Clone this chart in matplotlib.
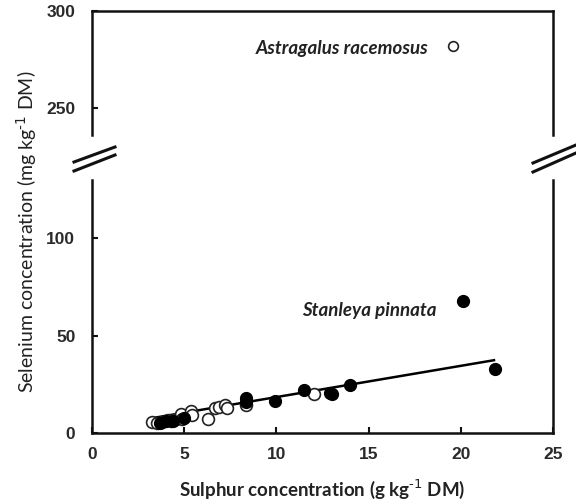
import matplotlib
matplotlib.use("Agg")
import matplotlib.pyplot as plt
from matplotlib.lines import Line2D
from matplotlib.font_manager import FontProperties

# Data
open_x = [3.25, 3.55, 3.8, 4.1, 4.3, 4.55, 4.8, 4.9, 5.35, 5.45, 6.3, 6.65, 6.9, 7.2, 7.3, 8.35, 12.05]
open_y = [5.8, 5.3, 5.5, 6.8, 6.2, 7.0, 10.0, 7.2, 11.4, 9.2, 7.0, 12.7, 13.5, 14.4, 13.0, 14.4, 20.0]
filled_x = [3.7, 4.0, 4.4, 5.0, 8.35, 8.35, 9.9, 11.5, 12.9, 13.0, 14.0, 20.1, 21.85]
filled_y = [5.0, 6.0, 6.3, 7.5, 16.0, 17.8, 16.6, 22.0, 20.7, 20.2, 24.6, 68.0, 32.8]
astragalus_x = [19.6]
astragalus_y = [282.0]
fit_x = [3.3, 21.8]
fit_y = [7.7, 37.4]

x_ticks = [0, 5, 10, 15, 20, 25]
y_ticks_low = [0, 50, 100]
y_ticks_high = [250, 300]

W, H = 576, 503
fig = plt.figure(figsize=(W / 100, H / 100), dpi=100)

L, R = 92, 553
def fy(px):
    return 1 - px / H

ax_top = fig.add_axes([L / W, fy(135), (R - L) / W, (135 - 11) / H])
ax_bot = fig.add_axes([L / W, fy(433), (R - L) / W, (433 - 180) / H])

tick_fp = FontProperties(family=["Liberation Sans", "DejaVu Sans"], weight="bold", size=12.5)
label_font = ["Lato", "Open Sans", "DejaVu Sans"]

for ax in (ax_top, ax_bot):
    ax.set_xlim(0, 25)
    for s in ax.spines.values():
        s.set_linewidth(1.8)
        s.set_color("#111111")
    ax.tick_params(direction="in", length=4, width=1.5, colors="#111111", labelcolor="#2a2a2a")

ax_top.set_ylim(236, 300)
ax_bot.set_ylim(0, 130)

ax_top.spines["bottom"].set_visible(False)
ax_bot.spines["top"].set_visible(False)
ax_top.set_xticks([])
ax_top.tick_params(axis="y", right=False)
ax_bot.tick_params(axis="both", top=False, right=False)

ax_top.set_yticks(y_ticks_high)
ax_bot.set_yticks(y_ticks_low)
ax_bot.set_xticks(x_ticks)
for lab in ax_top.get_yticklabels() + ax_bot.get_yticklabels() + ax_bot.get_xticklabels():
    lab.set_fontproperties(tick_fp)
ax_bot.tick_params(axis="y", pad=12)
ax_top.tick_params(axis="y", pad=12)
ax_bot.tick_params(axis="x", pad=10)

# Points
ax_bot.plot(fit_x, fit_y, color="black", lw=1.8, zorder=2)
ax_bot.plot(open_x, open_y, "o", ms=8.5, mfc="white", mec="#222222", mew=1.2, zorder=3)
ax_bot.plot(filled_x, filled_y, "o", ms=8.5, mfc="black", mec="black", mew=1.0, zorder=4)
ax_top.plot(astragalus_x, astragalus_y, "o", ms=7, mfc="white", mec="#222222", mew=1.2, clip_on=False)

ax_top.text(18.25, 280.5, "Astragalus racemosus", ha="right", va="center",
            family=label_font, style="italic", weight="bold", size=13.5, color="#222222")
ax_bot.text(18.7, 63, "Stanleya pinnata", ha="right", va="center",
            family=label_font, style="italic", weight="bold", size=13.5, color="#222222")

fig.text((L + R) / 2 / W, fy(489), "Sulphur concentration (g kg$^{\\text{-1}}$ DM)", ha="center", va="center",
         family=label_font, weight="bold", size=13.5, color="#222222")
fig.text(27 / W, fy(232), "Selenium concentration (mg kg$^{\\text{-1}}$ DM)", ha="center", va="center",
         rotation=90, family=label_font, size=14, color="#222222")

# Break marks
for (x0, y0, x1, y1) in [(74, 162, 115, 147), (74, 171, 115, 155),
                         (533, 163, 576, 145), (533, 172, 576, 153)]:
    fig.add_artist(Line2D([x0 / W, x1 / W], [fy(y0), fy(y1)], color="#111111", lw=2.2))

fig.savefig("out.png", dpi=100)
